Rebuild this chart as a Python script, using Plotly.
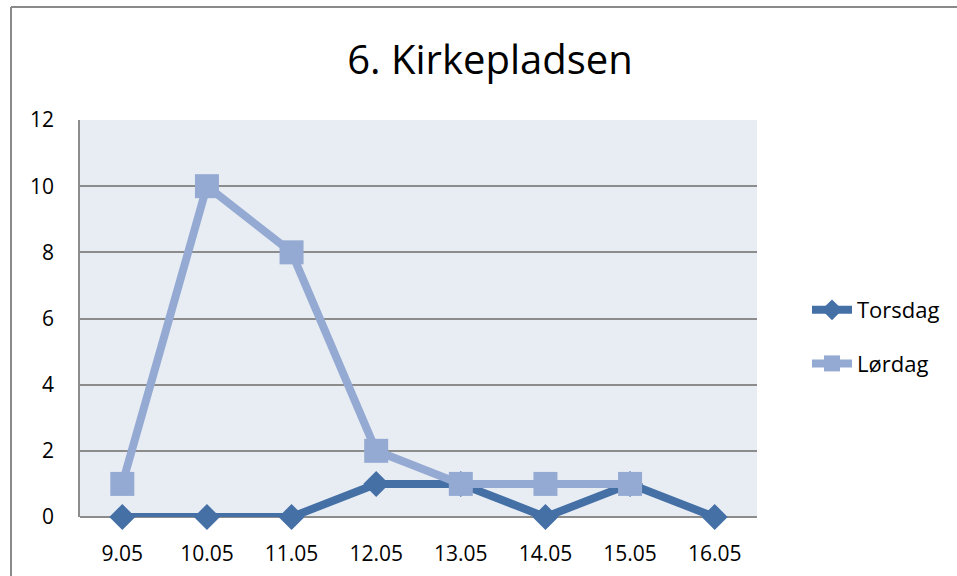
import plotly.graph_objects as go

categories = ["9.05", "10.05", "11.05", "12.05", "13.05", "14.05", "15.05", "16.05"]
torsdag = [0, 0, 0, 1, 1, 0, 1, 0]
lordag = [1, 10, 8, 2, 1, 1, 1, None]
y_ticks = [0, 2, 4, 6, 8, 10, 12]

W, H = 957, 576
L, T = 80, 120
pw, ph = 677, 397
R, B = W - L - pw, H - T - ph

dark = "#4470A6"
light = "#95AAD3"

fig = go.Figure()
fig.add_trace(go.Scatter(
    x=categories, y=torsdag, name="Torsdag", mode="lines+markers",
    legendgroup="a", cliponaxis=False,
    line=dict(color=dark, width=8),
    marker=dict(symbol="diamond", size=20, color=dark),
))
fig.add_trace(go.Scatter(
    x=categories, y=lordag, name="Lørdag", mode="lines+markers",
    legendgroup="b", cliponaxis=False,
    line=dict(color=light, width=8),
    marker=dict(symbol="square", size=24, color=light),
))

font_family = "Open Sans, Noto Sans, sans-serif"

fig.update_layout(
    width=W, height=H,
    margin=dict(l=L, r=R, t=T, b=B, autoexpand=False),
    paper_bgcolor="white",
    plot_bgcolor="#E8ECF3",
    font=dict(family=font_family, size=21, color="black"),
    title=dict(text="6. Kirkepladsen", x=490 / W, xanchor="center",
               y=1 - 60 / H, yanchor="middle", yref="container",
               font=dict(size=40, color="black", family=font_family)),
    xaxis=dict(type="category", range=[-0.5, 7.5], showgrid=False,
               showline=False, zeroline=False, ticks="", automargin=False,
               ticklabelstandoff=22, tickfont=dict(size=21)),
    yaxis=dict(range=[0, 12], tickvals=y_ticks, showgrid=True,
               gridcolor="#8C8C8C", gridwidth=1.5, zeroline=True,
               zerolinecolor="#8C8C8C", zerolinewidth=1.5,
               showline=True, linecolor="#8C8C8C", linewidth=1.5,
               ticks="", automargin=False,
               ticklabelstandoff=20, tickfont=dict(size=21)),
    legend=dict(x=(807 - L) / pw, y=(517 - 337) / ph, xanchor="left",
                yanchor="middle", bgcolor="rgba(0,0,0,0)",
                font=dict(size=22), tracegroupgap=22, itemwidth=40,
                traceorder="grouped"),
    showlegend=True,
    hovermode=False,
)

# outer chart border: only its left and top edges are within view
bx = (11 - L) / pw
by = (517 - 7) / ph
fig.add_shape(type="line", xref="paper", yref="paper",
              x0=bx, x1=bx, y0=-(H - 517) / ph - 0.1, y1=by,
              line=dict(color="#8A8A8A", width=2), layer="below")
fig.add_shape(type="line", xref="paper", yref="paper",
              x0=bx, x1=(W - L) / pw + 0.1, y0=by, y1=by,
              line=dict(color="#8A8A8A", width=2), layer="below")

fig.write_html(
    "out.html",
    config={"displayModeBar": False},
    post_script="document.body.style.margin='0';document.body.style.overflow='hidden';",
)
